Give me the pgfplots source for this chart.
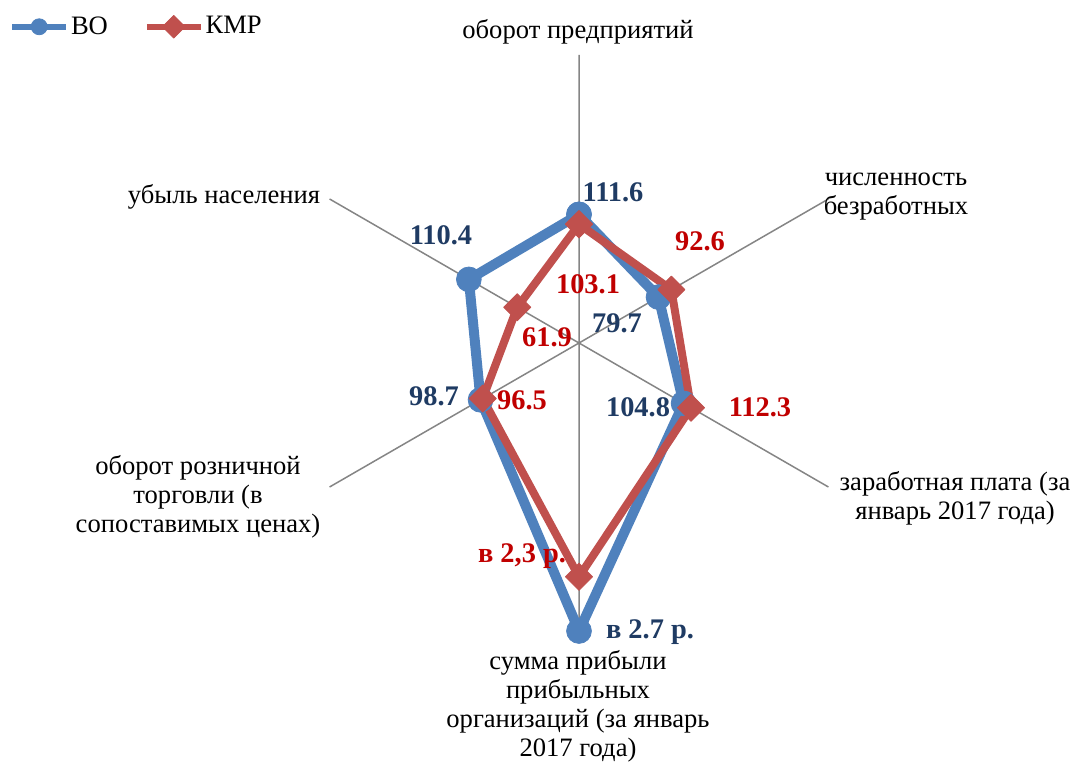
\documentclass[border=0pt]{standalone}
\usepackage{pgfplots}
\pgfplotsset{compat=1.18}
\usepgfplotslibrary{polar}
\usepackage{fontspec}
\setmainfont{Liberation Serif}
\definecolor{bo}{HTML}{4F81BD}
\definecolor{kmp}{HTML}{C0504D}
\definecolor{bolab}{HTML}{1F3B63}
\definecolor{kmplab}{HTML}{C00000}
\definecolor{spoke}{HTML}{858585}
\begin{document}
\begin{tikzpicture}
\path[use as bounding box] (0,0) rectangle (537.5pt,382.5pt);
\begin{polaraxis}[
  at={(289.5pt,211pt)}, anchor=center,
  scale only axis, width=288pt, height=288pt,
  ymin=0, ymax=250, ytick=\empty,
  xtick={30,90,150,210,270,330}, xticklabels={},
  xmajorgrids, grid style={draw=spoke, line width=0.75pt},
  major tick length=0pt,
  axis line style={draw=none},
  clip=false,
  legend columns=2,
  legend style={draw=none, fill=none, at={(-0.5,1.049)}, anchor=west,
    font=\fontsize{13.3}{14}\selectfont, column sep=0pt,
    nodes={inner sep=1pt},
    /tikz/every even column/.append style={column sep=17pt}},
  legend image code/.code={
    \draw[#1, line width=2.8pt, mark size=\legmark, mark repeat=2, mark phase=2] plot coordinates {(0pt,0pt) (13.5pt,0pt) (27pt,0pt)};
  },
]
\def\legmark{4pt}
\addplot[color=bo, line width=5pt, line join=round, mark=*, mark size=6.2pt,
  mark options={solid, line width=0.4pt, fill=bo}]
  coordinates {(90,111.6) (30,79.7) (330,104.8) (270,250) (210,98.7) (150,110.4) (90,111.6)};
\addlegendentry{ВО}
\addplot[color=kmp, line width=4pt, line join=round, mark=square*, mark size=4.8pt,
  mark options={solid, rotate=45, line width=0.4pt, fill=kmp}]
  coordinates {(90,103.1) (30,92.6) (330,112.3) (270,203) (210,96.5) (150,61.9) (90,103.1)};
\addlegendentry{КМР}
\end{polaraxis}
\begin{scope}[shift={(0pt,382.5pt)}, x=0.5pt, y=-0.5pt,
  every node/.style={inner sep=0pt, align=center, font=\fontsize{13.3}{14.5}\selectfont}]
\node at (578,32) {оборот предприятий};
\node at (896,197) {численность\\безработных};
\node at (955,498) {заработная плата (за\\январь 2017 года)};
\node at (578,706) {сумма прибыли\\прибыльных\\организаций (за январь\\2017 года)};
\node at (198,497) {оборот розничной\\торговли (в\\сопоставимых ценах)};
\node at (224,197) {убыль населения};
\begin{scope}[every node/.append style={font=\fontsize{14.2}{15}\selectfont\bfseries}]
\node[text=bolab] at (613,192) {111.6};
\node[text=bolab] at (441,235) {110.4};
\node[text=bolab] at (617,323) {79.7};
\node[text=bolab] at (638,407) {104.8};
\node[text=bolab] at (434,396) {98.7};
\node[text=bolab] at (650,632) {в 2.7 р.};
\node[text=kmplab] at (588,284) {103.1};
\node[text=kmplab] at (700,241) {92.6};
\node[text=kmplab] at (547,337) {61.9};
\node[text=kmplab] at (760,407) {112.3};
\node[text=kmplab] at (522,400) {96.5};
\node[text=kmplab] at (522,556) {в 2,3 р.};
\end{scope}
\end{scope}
\end{tikzpicture}
\end{document}
